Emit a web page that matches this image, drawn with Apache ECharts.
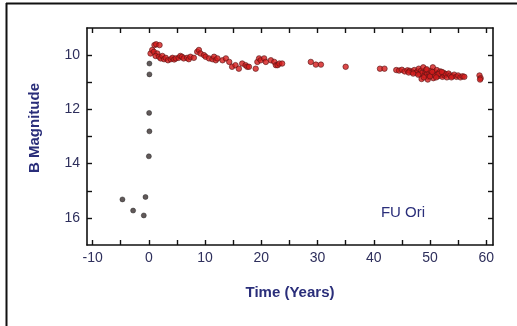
<!DOCTYPE html>
<html><head><meta charset="utf-8">
<script src="https://cdn.jsdelivr.net/npm/echarts@6/dist/echarts.min.js"></script>
<style>html,body{margin:0;padding:0;background:#fff}#c{width:517px;height:326px}</style>
</head><body><div id="c"></div>
<script>
const xTickLabels = [-10, 0, 10, 20, 30, 40, 50, 60];
const xTicks = [-10, -5, 0, 5, 10, 15, 20, 25, 30, 35, 40, 45, 50, 55, 60];
const yTickLabels = [10, 12, 14, 16];
const yTicks = [10, 11, 12, 13, 14, 15, 16];
const preOutburst = [[-4.7,15.32],[-2.8,15.73],[-0.6,15.23],[-0.9,15.91]];
const rise = [[0.0,13.73],[0.1,12.81],[0.05,12.13],[0.1,10.71],[0.1,10.31]];
const outburst = [
 [0.3,9.94],[0.6,9.81],[0.9,9.88],[1.0,9.63],[1.3,9.6],[1.5,9.94],[1.2,10.03],[1.8,10.06],[1.9,9.63],
 [2.1,10.12],[2.4,10.03],[2.7,10.15],[3.0,10.1],[3.4,10.19],[3.9,10.15],[4.2,10.1],[4.5,10.16],[4.8,10.12],
 [5.3,10.1],[5.6,10.03],[5.9,10.06],[6.2,10.12],[6.8,10.1],[7.1,10.15],[7.4,10.06],[8.0,10.1],[8.6,9.88],
 [8.9,9.81],[9.2,9.94],[9.8,10.0],[10.1,10.06],[10.7,10.12],[11.3,10.15],[11.6,10.06],[11.9,10.19],
 [12.2,10.12],[13.1,10.19],[13.7,10.12],[14.3,10.25],[14.8,10.43],[15.4,10.37],[16.0,10.5],[16.6,10.31],
 [17.2,10.37],[17.5,10.43],[17.8,10.43],[19.0,10.5],[19.3,10.25],[19.6,10.12],[19.9,10.19],[20.5,10.12],
 [20.8,10.25],[21.7,10.19],[22.3,10.25],[22.6,10.37],[22.9,10.37],[23.2,10.31],[23.7,10.31],
 [28.8,10.25],[29.7,10.35],[30.6,10.35],[35.0,10.43],[41.1,10.5],[41.9,10.5],
 [44.0,10.55],[44.5,10.57],[45.0,10.54],[45.5,10.6],[46.0,10.56],[46.4,10.58],[46.8,10.62],[47.2,10.55],
 [47.5,10.65],[47.8,10.6],[48.0,10.5],[48.2,10.7],[48.4,10.58],[48.6,10.66],[48.8,10.45],[49.0,10.75],
 [49.2,10.62],[49.3,10.55],[49.5,10.7],[49.7,10.8],[49.9,10.65],[50.1,10.58],[50.3,10.72],[50.5,10.45],
 [50.6,10.85],[50.8,10.62],[51.0,10.7],[51.2,10.55],[51.4,10.78],[51.6,10.66],[51.8,10.6],[52.0,10.72],
 [52.2,10.8],[52.4,10.65],[52.6,10.75],[52.8,10.7],[53.0,10.82],[53.3,10.68],[53.6,10.75],[54.0,10.78],
 [54.3,10.72],[54.7,10.8],[55.0,10.75],[55.4,10.82],[55.8,10.78],[56.1,10.8],[48.5,10.88],[49.6,10.9],
 [47.9,10.72],[48.9,10.82],[49.4,10.52],[50.0,10.78],[50.9,10.75],[51.5,10.7],[52.1,10.62],[53.8,10.82],
 [46.2,10.64],[47.0,10.68],[50.4,10.62],[51.1,10.82],
 [58.8,10.75],[59.0,10.85],[58.9,10.9]
];

const labelColor = '#2e2f5c';
const nameColor = '#2a2e7a';
const font = 'Liberation Sans, Arial, sans-serif';
const chart = echarts.init(document.getElementById('c'));
const axisLine = {show:true, onZero:false, lineStyle:{color:'#111', width:1.6}};
const tickStyle = {color:'#111', width:1.4};
chart.setOption({
  animation:false,
  grid:{left:87, top:28, right:24, bottom:81},
  xAxis:[
    {type:'value', position:'bottom', min:-11, max:61.2,
     axisLine, splitLine:{show:false},
     axisTick:{inside:true, length:5, customValues:xTicks, lineStyle:tickStyle},
     axisLabel:{customValues:xTickLabels, color:labelColor, fontSize:14, fontFamily:font, margin:6}},
    {type:'value', position:'top', min:-11, max:61.2,
     axisLine, splitLine:{show:false},
     axisTick:{inside:true, length:5, customValues:xTicks, lineStyle:tickStyle},
     axisLabel:{show:false}}
  ],
  yAxis:[
    {type:'value', position:'left', inverse:true, min:9, max:17,
     axisLine, splitLine:{show:false},
     axisTick:{inside:true, length:5, customValues:yTicks, lineStyle:tickStyle},
     axisLabel:{customValues:yTickLabels, color:labelColor, fontSize:14, fontFamily:font, margin:7}},
    {type:'value', position:'right', inverse:true, min:9, max:17,
     axisLine, splitLine:{show:false},
     axisTick:{inside:true, length:5, customValues:yTicks, lineStyle:tickStyle},
     axisLabel:{show:false}}
  ],
  graphic:[
    {type:'line', shape:{x1:6, y1:3.5, x2:517, y2:3.5}, style:{stroke:'#111', lineWidth:2}},
    {type:'line', shape:{x1:6.5, y1:3, x2:6.5, y2:326}, style:{stroke:'#111', lineWidth:2}},
    {type:'text', x:35, y:128, rotation:Math.PI/2,
     style:{text:'B Magnitude', fill:nameColor, font:'bold 15px '+font, align:'center', verticalAlign:'middle'}},
    {type:'text', x:290, y:293,
     style:{text:'Time (Years)', fill:nameColor, font:'bold 15px '+font, align:'center', verticalAlign:'middle'}},
    {type:'text', x:403, y:213,
     style:{text:'FU Ori', fill:nameColor, font:'15px '+font, align:'center', verticalAlign:'middle'}}
  ],
  series:[
    {type:'scatter', data:preOutburst, symbolSize:5,
     itemStyle:{color:'#3a3030', borderColor:'#222', borderWidth:0.6}},
    {type:'scatter', data:rise, symbolSize:5,
     itemStyle:{color:'#3a3030', borderColor:'#222', borderWidth:0.6}},
    {type:'scatter', data:outburst, symbolSize:5.5,
     itemStyle:{color:'#d41c1c', borderColor:'#5a1414', borderWidth:0.8}}
  ]
});
</script></body></html>
